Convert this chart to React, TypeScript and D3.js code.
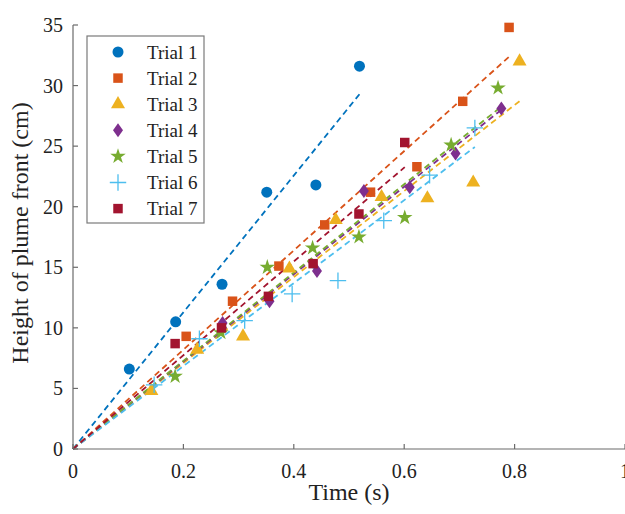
import * as d3 from 'd3';

const W = 625;
const H = 514;
const MARGIN = { top: 25, right: 0, bottom: 65, left: 73 };

const trialNames = ['Trial 1', 'Trial 2', 'Trial 3', 'Trial 4', 'Trial 5', 'Trial 6', 'Trial 7'];
const trialColors = ['#0072BD', '#D95319', '#EDB120', '#7E2F8E', '#77AC30', '#4DBEEE', '#A2142F'];
const trialMarkers = ['circle', 'square', 'triangle', 'diamond', 'star', 'plus', 'square'];

// time (s) and plume front height (cm), per trial
const trial1T = [0.102, 0.186, 0.27, 0.351, 0.44, 0.519];
const trial1H = [6.6, 10.5, 13.6, 21.2, 21.8, 31.6];
const trial2T = [0.205, 0.289, 0.373, 0.456, 0.539, 0.623, 0.706, 0.79];
const trial2H = [9.3, 12.2, 15.1, 18.5, 21.2, 23.3, 28.7, 34.8];
const trial3T = [0.142, 0.225, 0.308, 0.392, 0.476, 0.559, 0.642, 0.725, 0.809];
const trial3H = [4.8, 8.2, 9.3, 14.9, 18.9, 20.8, 20.7, 22.0, 32.0];
const trial4T = [0.271, 0.356, 0.442, 0.527, 0.61, 0.693, 0.776];
const trial4H = [10.4, 12.2, 14.7, 21.3, 21.6, 24.4, 28.1];
const trial5T = [0.185, 0.268, 0.352, 0.434, 0.518, 0.601, 0.685, 0.77];
const trial5H = [6.0, 9.6, 15.0, 16.6, 17.5, 19.1, 25.1, 29.8];
const trial6T = [0.147, 0.229, 0.311, 0.397, 0.48, 0.563, 0.646, 0.728];
const trial6H = [5.3, 9.1, 10.6, 12.8, 13.9, 18.85, 22.6, 26.5];
const trial7T = [0.185, 0.269, 0.354, 0.435, 0.518, 0.601];
const trial7H = [8.7, 10.0, 12.6, 15.3, 19.4, 25.3];

const xTicks = [0, 0.2, 0.4, 0.6, 0.8, 1];
const yTicks = [0, 5, 10, 15, 20, 25, 30, 35];

const FONT = "'Liberation Serif', 'DejaVu Serif', serif";

const trials = [
  [trial1T, trial1H],
  [trial2T, trial2H],
  [trial3T, trial3H],
  [trial4T, trial4H],
  [trial5T, trial5H],
  [trial6T, trial6H],
  [trial7T, trial7H],
].map(([t, h], i) => {
  // least squares fit through the origin
  const slope = d3.sum(t, (v, j) => v * h[j]) / d3.sum(t, v => v * v);
  return {
    name: trialNames[i],
    color: trialColors[i],
    marker: trialMarkers[i],
    points: t.map((v, j) => ({ t: v, h: h[j] })),
    slope,
    tEnd: d3.max(t) as number,
  };
});

const markerPath = (marker: string) => {
  switch (marker) {
    case 'circle':
      return d3.symbol(d3.symbolCircle, 95)();
    case 'square':
      return d3.symbol(d3.symbolSquare, 90)();
    case 'triangle':
      return d3.symbol(d3.symbolTriangle, 85)();
    case 'star':
      return d3.symbol(d3.symbolStar, 75)();
    case 'plus':
      return d3.symbol(d3.symbolPlus, 90)();
    case 'diamond':
      return 'M0,-7L5,0L0,7L-5,0Z';
    default:
      return d3.symbol(d3.symbolCircle, 80)();
  }
};

const Marker = ({ marker, color, x, y }: { marker: string; color: string; x: number; y: number }) => {
  const stroked = marker === 'plus';
  return (
    <path
      d={markerPath(marker) as string}
      fill={stroked ? 'none' : color}
      stroke={stroked ? color : 'none'}
      strokeWidth={stroked ? 1.3 : 0}
      transform={`translate(${x},${y})`}
    />
  );
};

const App = () => {
  const x0 = MARGIN.left;
  const x1 = W - MARGIN.right;
  const y0 = H - MARGIN.bottom;
  const y1 = MARGIN.top;

  const xScale = d3.scaleLinear().domain([0, 1]).range([x0, x1]);
  const yScale = d3.scaleLinear().domain([0, 35]).range([y0, y1]);

  const line = d3
    .line<[number, number]>()
    .x(d => xScale(d[0]))
    .y(d => yScale(d[1]));

  const fitLines = trials.map(tr => (
    <path
      key={`fit-${tr.name}`}
      d={line([[0, 0], [tr.tEnd, tr.slope * tr.tEnd]]) as string}
      fill="none"
      stroke={tr.color}
      strokeWidth={1.8}
      strokeDasharray="6,4"
    />
  ));

  const points = trials.map(tr => (
    <g key={`pts-${tr.name}`}>
      {tr.points.map(p => (
        <Marker
          key={`${tr.name}-${p.t}`}
          marker={tr.marker}
          color={tr.color}
          x={xScale(p.t)}
          y={yScale(p.h)}
        />
      ))}
    </g>
  ));

  const legendX = 87;
  const legendY = 36;
  const rowH = 26.1;

  return (
    <svg width={W} height={H} style={{ position: 'absolute', left: 0, top: 0, background: '#fff' }}>
      {fitLines}
      {points}

      {/* axes */}
      <line x1={x0} x2={x1} y1={y0} y2={y0} stroke="#6b6b6b" strokeWidth={1.2} />
      <line x1={x0} x2={x0} y1={y0} y2={y1} stroke="#6b6b6b" strokeWidth={1.2} />
      {xTicks.map(t => (
        <g key={`xt-${t}`}>
          <line x1={xScale(t)} x2={xScale(t)} y1={y0} y2={y0 - 5} stroke="#6b6b6b" strokeWidth={1.2} />
          <text
            x={xScale(t)}
            y={y0 + 29}
            textAnchor="middle"
            fontFamily={FONT}
            fontSize={20}
            fill="#222"
          >
            {String(t)}
          </text>
        </g>
      ))}
      {yTicks.map(t => (
        <g key={`yt-${t}`}>
          <line x1={x0} x2={x0 + 5} y1={yScale(t)} y2={yScale(t)} stroke="#6b6b6b" strokeWidth={1.2} />
          <text
            x={x0 - 10}
            y={yScale(t)}
            dy="0.35em"
            textAnchor="end"
            fontFamily={FONT}
            fontSize={20}
            fill="#222"
          >
            {t}
          </text>
        </g>
      ))}
      <text x={(x0 + x1) / 2} y={H - 14} textAnchor="middle" fontFamily={FONT} fontSize={24} fill="#222">
        Time (s)
      </text>
      <text
        transform={`translate(28,${(y0 + y1) / 2 - 4}) rotate(-90)`}
        textAnchor="middle"
        fontFamily={FONT}
        fontSize={24}
        fill="#222"
      >
        Height of plume front (cm)
      </text>

      {/* legend */}
      <rect x={legendX} y={legendY} width={117} height={187} fill="#fff" stroke="#7a7a7a" strokeWidth={1.2} />
      {trials.map((tr, i) => (
        <g key={`lg-${tr.name}`}>
          <Marker marker={tr.marker} color={tr.color} x={legendX + 31} y={legendY + 16 + i * rowH} />
          <text
            x={legendX + 60}
            y={legendY + 16 + i * rowH}
            dy="0.35em"
            fontFamily={FONT}
            fontSize={19}
            fill="#222"
          >
            {tr.name}
          </text>
        </g>
      ))}
    </svg>
  );
};

export default App;
